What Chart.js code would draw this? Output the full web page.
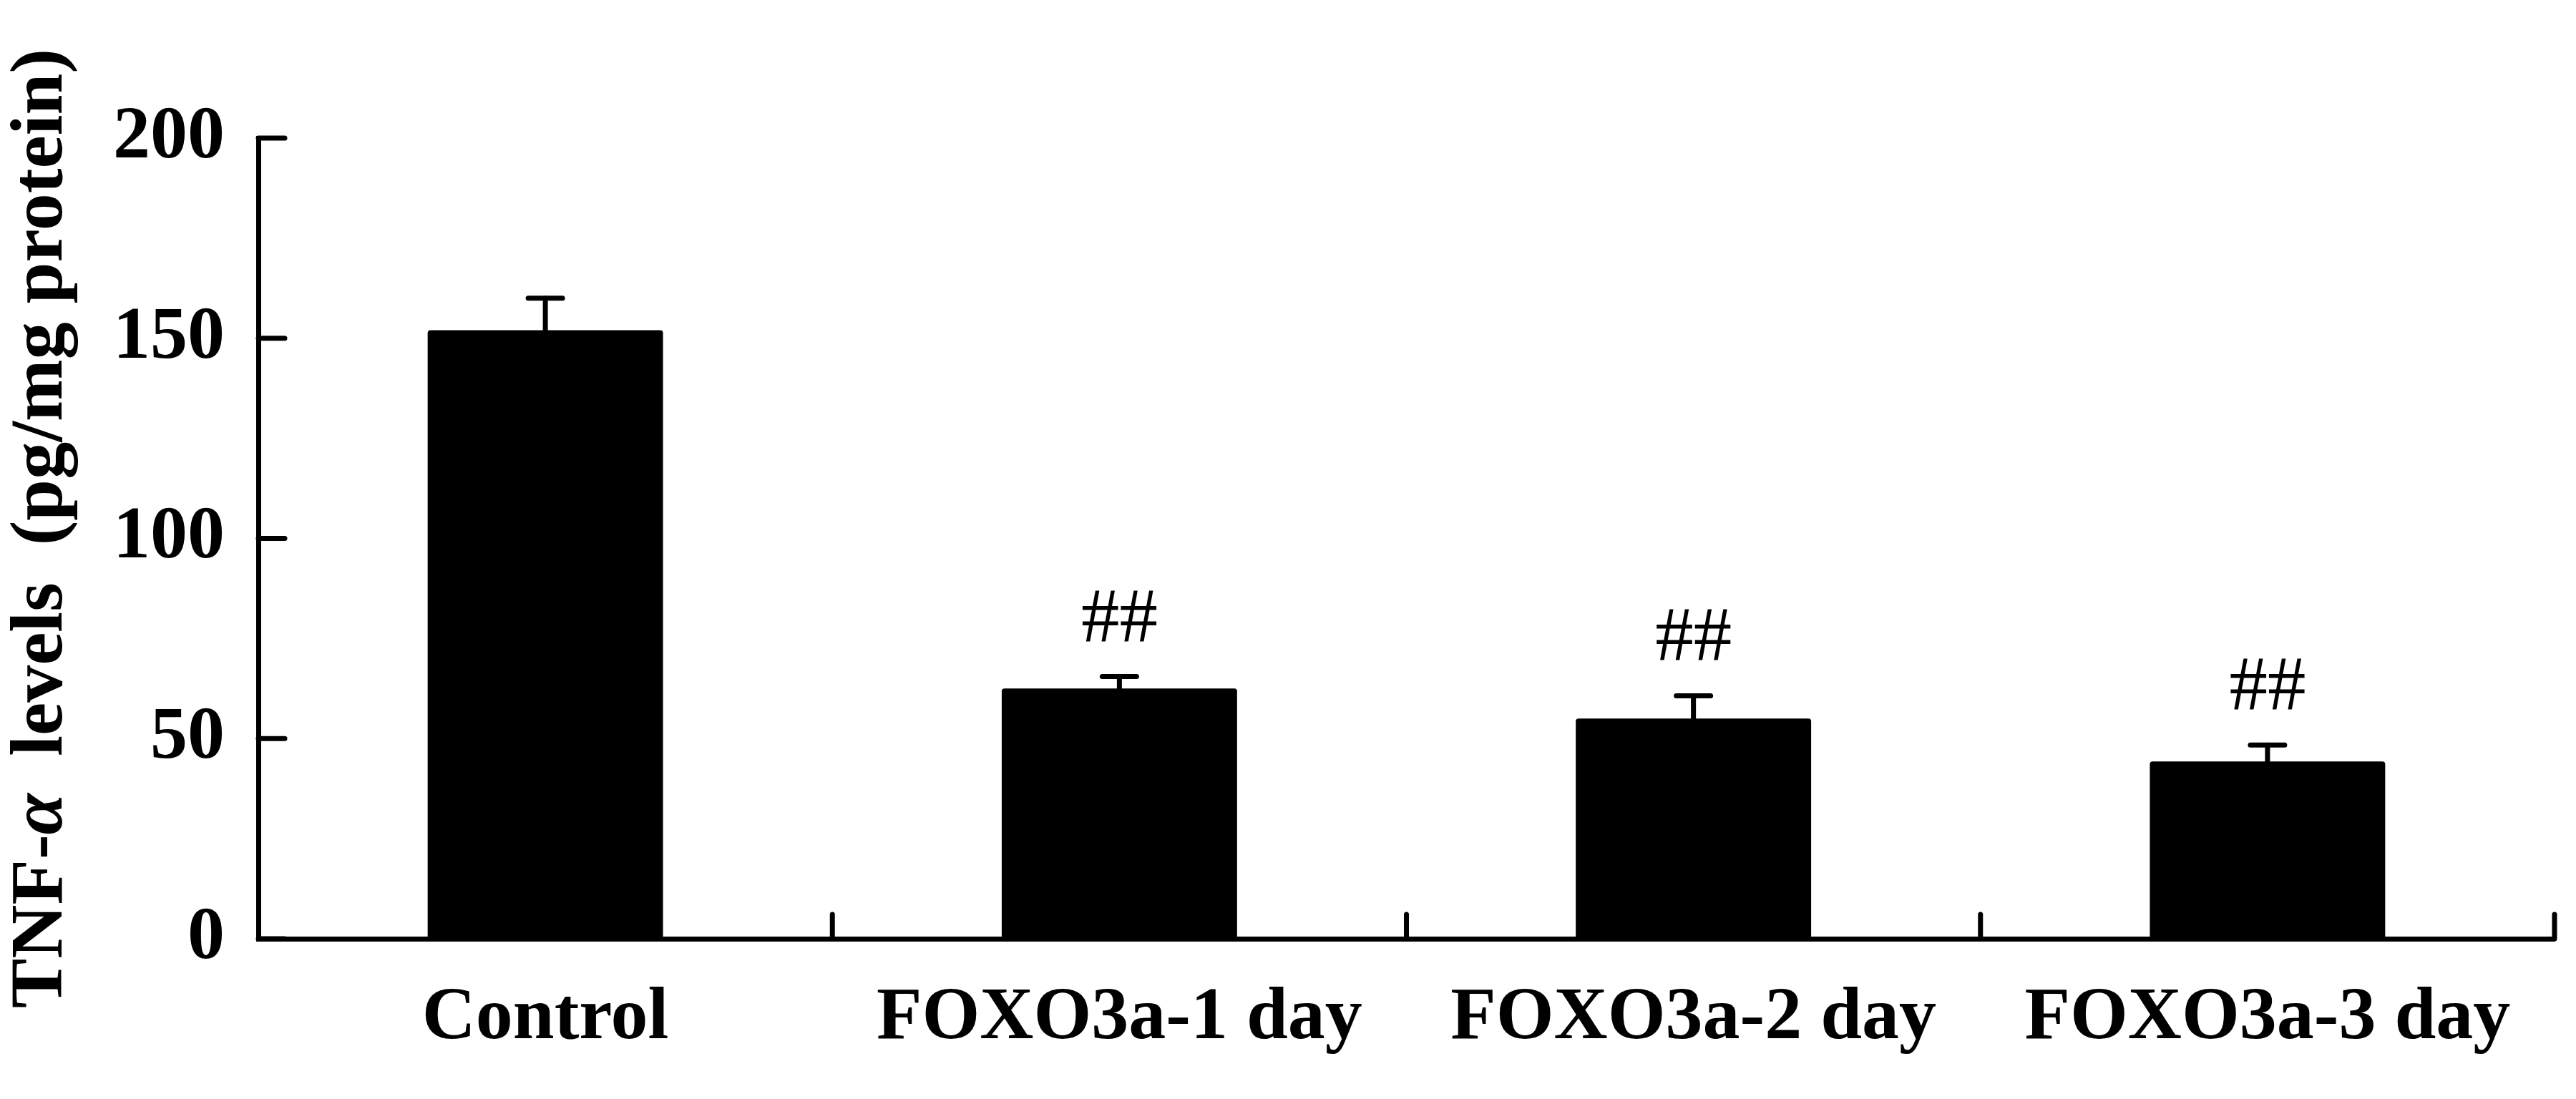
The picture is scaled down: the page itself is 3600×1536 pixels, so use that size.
<!DOCTYPE html>
<html>
<head>
<meta charset="utf-8">
<script src="https://cdn.jsdelivr.net/npm/chart.js@4"></script>
<style>
  html, body { margin: 0; padding: 0; background: #fff; }
  #wrap { width: 3600px; height: 1536px; }
</style>
</head>
<body>
<div id="wrap"><canvas id="chart"></canvas></div>
<script>
var categories = ['Control', 'FOXO3a-1 day', 'FOXO3a-2 day', 'FOXO3a-3 day'];
var means = [152, 62.5, 55, 44.3];
var errors = [8, 3, 5.7, 4.1];
var marks = ['', '##', '##', '##'];
var yTicks = [0, 50, 100, 150, 200];

var FONT = "'Liberation Serif', 'Times New Roman', serif";

function line(ctx, x1, y1, x2, y2) {
    ctx.beginPath();
    ctx.moveTo(x1, y1);
    ctx.lineTo(x2, y2);
    ctx.stroke();
}

// inward ticks, error bars, ## marks and the mixed-style y title
var extras = {
    id: 'extras',
    afterDatasetsDraw: function(chart) {
        var ctx = chart.ctx;
        var area = chart.chartArea;
        var x = chart.scales.x, y = chart.scales.y;
        var bars = chart.getDatasetMeta(0).data;

        ctx.save();
        ctx.strokeStyle = '#000';
        ctx.fillStyle = '#000';
        ctx.lineWidth = 7;
        ctx.lineCap = 'round';

        y.ticks.forEach(function(t) {
            var py = y.getPixelForValue(t.value);
            line(ctx, area.left, py, area.left + 37, py);
        });

        for (var i = 1; i <= categories.length; i++) {
            var px = i < categories.length
                ? (x.getPixelForValue(i - 1) + x.getPixelForValue(i)) / 2
                : area.right;
            line(ctx, px, area.bottom, px, area.bottom - 34);
        }

        ctx.font = '107px ' + FONT;
        ctx.textAlign = 'center';
        ctx.textBaseline = 'alphabetic';
        bars.forEach(function(bar, i) {
            var top = y.getPixelForValue(means[i] + errors[i]);
            line(ctx, bar.x, bar.y, bar.x, top);
            line(ctx, bar.x - 24, top, bar.x + 24, top);
            if (marks[i]) { ctx.fillText(marks[i], bar.x, top - 50); }
        });

        // y axis title
        var parts = [
            ['TNF-', 'bold 104px ' + FONT],
            ['\u03b1', 'italic bold 104px ' + FONT],
            ['  levels  (pg/mg protein)', 'bold 104px ' + FONT]
        ];
        var total = 0;
        parts.forEach(function(p) { ctx.font = p[1]; total += ctx.measureText(p[0]).width; });
        ctx.translate(86, (area.top + area.bottom) / 2 - 14);
        ctx.rotate(-Math.PI / 2);
        ctx.textAlign = 'left';
        var pos = -total / 2;
        parts.forEach(function(p) {
            ctx.font = p[1];
            ctx.fillText(p[0], pos, 0);
            pos += ctx.measureText(p[0]).width;
        });
        ctx.restore();
    }
};

var chart = new Chart(document.getElementById('chart').getContext('2d'), {
    type: 'bar',
    data: {
        labels: categories,
        datasets: [{
            data: means,
            backgroundColor: '#000',
            borderWidth: 0,
            borderRadius: 4,
            borderSkipped: 'bottom',
            categoryPercentage: 1,
            barPercentage: 0.41
        }]
    },
    options: {
        responsive: true,
        maintainAspectRatio: false,
        devicePixelRatio: 1,
        animation: false,
        layout: { padding: { left: 111, top: 193, right: 30, bottom: 0 } },
        plugins: { legend: { display: false }, tooltip: { enabled: false } },
        scales: {
            x: {
                grid: { display: false, drawTicks: false },
                border: { display: true, color: '#000', width: 7 },
                ticks: {
                    color: '#000',
                    font: { family: FONT, size: 104, weight: 'bold', lineHeight: 1 },
                    padding: 60,
                    maxRotation: 0,
                    autoSkip: false
                }
            },
            y: {
                min: 0,
                max: 200,
                afterBuildTicks: function(scale) {
                    scale.ticks = yTicks.map(function(v) { return { value: v }; });
                },
                grid: { display: false, drawTicks: false },
                border: { display: true, color: '#000', width: 7 },
                ticks: {
                    color: '#000',
                    font: { family: FONT, size: 104, weight: 'bold' },
                    padding: 47
                }
            }
        }
    },
    plugins: [extras]
});
</script>
</body>
</html>
